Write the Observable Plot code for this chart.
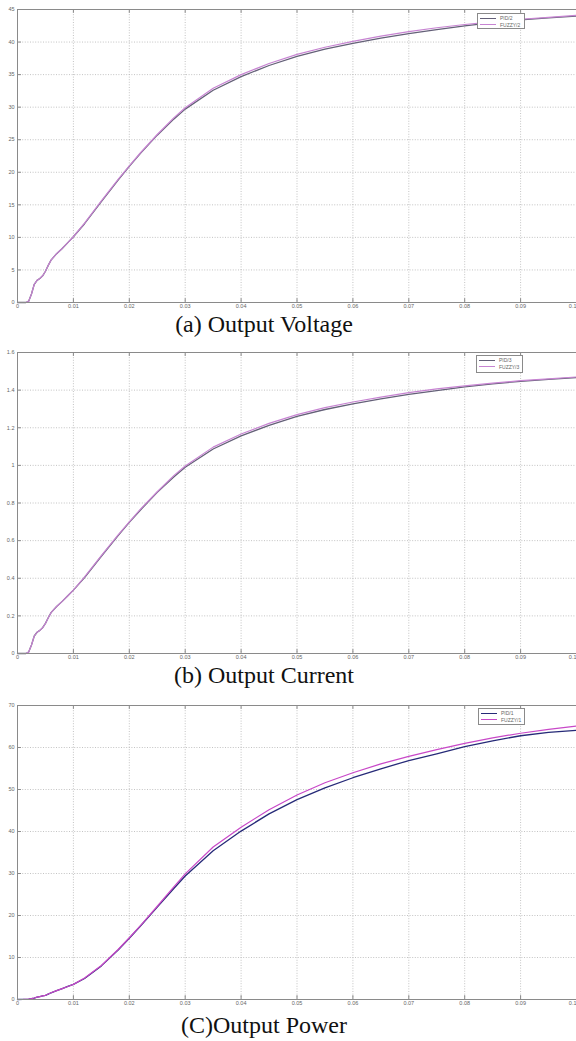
<!DOCTYPE html>
<html>
<head>
<meta charset="utf-8">
<script src="https://cdn.jsdelivr.net/npm/d3@7"></script>
<script src="https://cdn.jsdelivr.net/npm/@observablehq/plot@0.6"></script>
<style>
  html, body { margin: 0; padding: 0; background: #fff; }
  #page { position: relative; width: 576px; height: 1041px; overflow: hidden; background: #fff; }
  .panel { position: absolute; left: 0; }
  .caption { position: absolute; left: 0; width: 528px; text-align: center;
    font-family: "Liberation Serif", "Times New Roman", serif; font-size: 24px; line-height: 24px; color: #111; }
  .legend { position: absolute; background: #fff; border: 1px solid #8a8a8a;
    font-family: "Liberation Sans", Arial, sans-serif; font-size: 5px; color: #666; box-sizing: border-box; padding: 1px 2px; }
  .legend .row { display: flex; align-items: center; height: 6.5px; }
  .legend .sw { width: 16px; height: 0; border-top: 1px solid; margin-right: 4px; }
</style>
</head>
<body>
<div id="page"></div>
<script>
// ---------- data ----------
const timeS = [0, 0.001, 0.0015, 0.002, 0.0025, 0.003, 0.0035, 0.004, 0.0045, 0.005, 0.0055, 0.006, 0.007, 0.008, 0.009, 0.01, 0.012, 0.015, 0.018, 0.02, 0.022, 0.025, 0.028, 0.03, 0.035, 0.04, 0.045, 0.05, 0.055, 0.06, 0.065, 0.07, 0.075, 0.08, 0.085, 0.09, 0.095, 0.1];

const voltagePid   = [0, 0, 0, 0.2, 1.3, 2.8, 3.4, 3.7, 4.1, 4.8, 5.7, 6.5, 7.5, 8.3, 9.2, 10.1, 12.1, 15.5, 18.8, 20.9, 22.9, 25.7, 28.2, 29.7, 32.6, 34.7, 36.4, 37.8, 38.9, 39.8, 40.6, 41.3, 41.9, 42.5, 43.0, 43.4, 43.7, 44.0];
const voltageFuzzy = [0, 0, 0, 0.2, 1.3, 2.8, 3.4, 3.7, 4.1, 4.8, 5.7, 6.5, 7.5, 8.3, 9.2, 10.1, 12.2, 15.6, 18.9, 21.0, 23.0, 25.8, 28.4, 29.9, 32.9, 35.0, 36.7, 38.1, 39.2, 40.1, 40.9, 41.6, 42.2, 42.7, 43.1, 43.5, 43.8, 44.1];

const currentPid   = [0, 0, 0, 0.008, 0.045, 0.093, 0.113, 0.123, 0.137, 0.16, 0.19, 0.217, 0.25, 0.277, 0.307, 0.337, 0.403, 0.517, 0.627, 0.697, 0.763, 0.857, 0.94, 0.99, 1.087, 1.157, 1.213, 1.26, 1.297, 1.327, 1.353, 1.377, 1.397, 1.417, 1.433, 1.447, 1.457, 1.467];
const currentFuzzy = [0, 0, 0, 0.008, 0.045, 0.093, 0.113, 0.123, 0.137, 0.16, 0.19, 0.217, 0.25, 0.277, 0.307, 0.337, 0.407, 0.52, 0.63, 0.70, 0.767, 0.86, 0.947, 0.997, 1.097, 1.167, 1.223, 1.27, 1.307, 1.337, 1.363, 1.387, 1.407, 1.423, 1.437, 1.45, 1.46, 1.47];

const powerPid   = [0, 0.02, 0.05, 0.1, 0.2, 0.35, 0.55, 0.7, 0.85, 1.0, 1.3, 1.6, 2.1, 2.6, 3.1, 3.6, 5.0, 8.0, 11.8, 14.6, 17.5, 22.0, 26.5, 29.4, 35.4, 40.1, 44.2, 47.6, 50.4, 52.8, 54.9, 56.9, 58.5, 60.2, 61.6, 62.8, 63.6, 64.1];
const powerFuzzy = [0, 0.02, 0.05, 0.1, 0.2, 0.35, 0.55, 0.7, 0.85, 1.0, 1.3, 1.6, 2.1, 2.6, 3.1, 3.6, 5.1, 8.1, 11.9, 14.7, 17.6, 22.2, 26.9, 29.9, 36.3, 41.0, 45.2, 48.7, 51.6, 54.0, 56.1, 57.9, 59.5, 61.0, 62.3, 63.4, 64.3, 65.1];

const xTicks = [0, 0.01, 0.02, 0.03, 0.04, 0.05, 0.06, 0.07, 0.08, 0.09, 0.1];
const xTickLabels = ["0", "0.01", "0.02", "0.03", "0.04", "0.05", "0.06", "0.07", "0.08", "0.09", "0.1"];
const voltageTicks = [0, 5, 10, 15, 20, 25, 30, 35, 40, 45];
const voltageTickLabels = ["0", "5", "10", "15", "20", "25", "30", "35", "40", "45"];
const currentTicks = [0, 0.2, 0.4, 0.6, 0.8, 1, 1.2, 1.4, 1.6];
const currentTickLabels = ["0", "0.2", "0.4", "0.6", "0.8", "1", "1.2", "1.4", "1.6"];
const powerTicks = [0, 10, 20, 30, 40, 50, 60, 70];
const powerTickLabels = ["0", "10", "20", "30", "40", "50", "60", "70"];

const captions = ["(a) Output Voltage", "(b) Output Current", "(C)Output Power"];
const legendNames = [["PID/2", "FUZZY/2"], ["PID/3", "FUZZY/3"], ["PID/1", "FUZZY/1"]];

// ---------- drawing ----------
const page = document.getElementById("page");

function panel({pid, fuzzy, yTicks, yLabels, top, height, marginTop, pidColor, fuzzyColor, caption, captionTop, names, legendBox}) {
  const ymax = yTicks[yTicks.length - 1];
  const rows = timeS.map((t, i) => ({t, pid: pid[i], fuzzy: fuzzy[i]}));
  const xl = new Map(xTicks.map((d, i) => [d, xTickLabels[i]]));
  const yl = new Map(yTicks.map((d, i) => [d, yLabels[i]]));
  const lastX = xTicks[xTicks.length - 1];
  const gridStyle = {stroke: "#b4b4b4", strokeOpacity: 1, strokeWidth: 0.8, strokeDasharray: "1,1.6"};
  const chart = Plot.plot({
    width: 576,
    height,
    marginLeft: 17,
    marginRight: 0,
    marginTop,
    marginBottom: 11,
    style: {background: "white", fontFamily: "Liberation Sans, Arial, sans-serif", fontSize: "5.5px", color: "#666"},
    x: {domain: [0, 0.1], label: null},
    y: {domain: [0, ymax], label: null},
    marks: [
      Plot.gridX(xTicks, gridStyle),
      Plot.gridY(yTicks, gridStyle),
      Plot.ruleX(xTicks, {x: d => d, y1: 0, y2: ymax * 0.013, stroke: "#888"}),
      Plot.ruleX(xTicks, {x: d => d, y1: ymax, y2: ymax * 0.987, stroke: "#888"}),
      Plot.ruleY(yTicks, {y: d => d, x1: 0, x2: 0.0007, stroke: "#888"}),
      Plot.line(rows, {x: "t", y: "pid", stroke: pidColor, strokeWidth: 1.3}),
      Plot.line(rows, {x: "t", y: "fuzzy", stroke: fuzzyColor, strokeWidth: 1.2}),
      Plot.frame({stroke: "#8a8a8a", strokeWidth: 1}),
      Plot.axisX(xTicks.filter(d => d !== lastX), {tickSize: 0, tickPadding: 2, tickFormat: d => xl.get(d), label: null, fill: "#666"}),
      Plot.axisX([lastX], {tickSize: 0, tickPadding: 2, tickFormat: d => xl.get(d), label: null, fill: "#666", textAnchor: "end"}),
      Plot.axisY(yTicks, {tickSize: 0, tickPadding: 3, tickFormat: d => yl.get(d), label: null, fill: "#666"})
    ]
  });
  chart.classList.add("panel");
  chart.style.top = top + "px";
  page.appendChild(chart);

  const cap = document.createElement("div");
  cap.className = "caption";
  cap.style.top = captionTop + "px";
  cap.textContent = caption;
  page.appendChild(cap);

  const lg = document.createElement("div");
  lg.className = "legend";
  Object.assign(lg.style, {left: legendBox[0] + "px", top: legendBox[1] + "px", width: legendBox[2] + "px", height: legendBox[3] + "px"});
  [[names[0], pidColor], [names[1], fuzzyColor]].forEach(([name, color]) => {
    const r = document.createElement("div");
    r.className = "row";
    const sw = document.createElement("span");
    sw.className = "sw";
    sw.style.borderColor = color;
    const tx = document.createElement("span");
    tx.textContent = name;
    r.appendChild(sw); r.appendChild(tx);
    lg.appendChild(r);
  });
  page.appendChild(lg);
}

panel({pid: voltagePid, fuzzy: voltageFuzzy, yTicks: voltageTicks, yLabels: voltageTickLabels,
  top: 0, height: 313, marginTop: 9, pidColor: "#646078", fuzzyColor: "#c784d2",
  caption: captions[0], captionTop: 312, names: legendNames[0], legendBox: [477, 13, 48, 16]});

panel({pid: currentPid, fuzzy: currentFuzzy, yTicks: currentTicks, yLabels: currentTickLabels,
  top: 339, height: 325, marginTop: 13, pidColor: "#646078", fuzzyColor: "#c784d2",
  caption: captions[1], captionTop: 663, names: legendNames[1], legendBox: [476, 355, 47, 18]});

panel({pid: powerPid, fuzzy: powerFuzzy, yTicks: powerTicks, yLabels: powerTickLabels,
  top: 690, height: 320, marginTop: 15, pidColor: "#262a78", fuzzyColor: "#c848c8",
  caption: captions[2], captionTop: 1013, names: legendNames[2], legendBox: [478, 708, 47, 17]});
</script>
</body>
</html>
